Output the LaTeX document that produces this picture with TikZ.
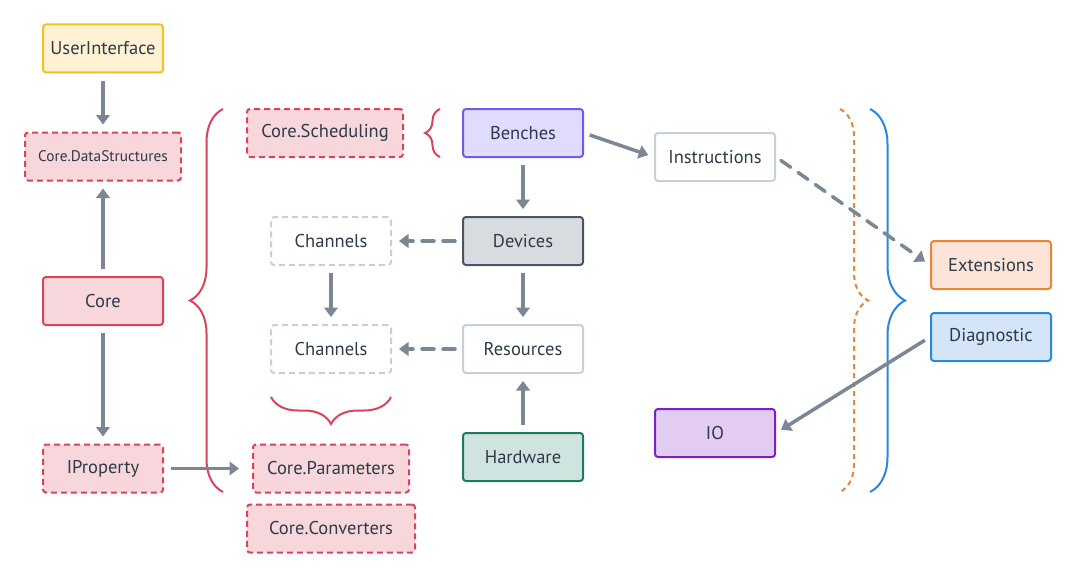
\documentclass[tikz,border=0pt]{standalone}
\usepackage{fontspec}
\setmainfont{PT Sans}
\usetikzlibrary{arrows.meta,decorations.pathreplacing}
\definecolor{txt}{HTML}{2F3A48}
\definecolor{arr}{HTML}{7B8794}
\definecolor{redb}{HTML}{D6455D}
\definecolor{redf}{HTML}{F8D7DC}
\definecolor{yelb}{HTML}{F5C024}
\definecolor{yelf}{HTML}{FFF2D4}
\definecolor{purb}{HTML}{6C5CF0}
\definecolor{purf}{HTML}{E0DCFF}
\definecolor{devb}{HTML}{4A5462}
\definecolor{devf}{HTML}{D8DCE0}
\definecolor{ltb}{HTML}{C5D0DA}
\definecolor{hwb}{HTML}{1F7A64}
\definecolor{hwf}{HTML}{D0E4DF}
\definecolor{iob}{HTML}{7B1FC9}
\definecolor{iof}{HTML}{E3CCF2}
\definecolor{extb}{HTML}{EB8537}
\definecolor{extf}{HTML}{FCE5D8}
\definecolor{diab}{HTML}{2B88D8}
\definecolor{diaf}{HTML}{D3E5F6}
\begin{document}
\begin{tikzpicture}[x=1pt,y=-1pt,
  box/.style={draw, line width=2pt, rounded corners=3pt, minimum width=120pt, minimum height=48pt,
    inner sep=0pt, text=txt, font=\fontsize{18.5}{21}\selectfont},
  dbox/.style={box, dash pattern=on 6pt off 4pt},
  redbox/.style={box, draw=redb, fill=redf},
  reddash/.style={dbox, draw=redb, fill=redf},
  conn/.style={draw=arr, line width=3.5pt, -{Triangle[length=9.5pt,width=13.5pt]}, shorten >=7pt, shorten <=7pt},
  dconn/.style={conn, dash pattern=on 12pt off 9pt, line cap=round},
  bracedeco/.style={decorate, line width=2pt}
]
\useasboundingbox (0,0) rectangle (1076,578);
\fill[white] (0,0) rectangle (1076,578);

% nodes
\node[box, draw=yelb, fill=yelf] (ui) at (103,48.5) {UserInterface};
\node[reddash, minimum width=156pt, font=\fontsize{15.3}{18}\selectfont] (ds) at (103,156.5) {Core.DataStructures};
\node[redbox] (core) at (103,301) {Core};
\node[reddash] (iprop) at (103,468.5) {IProperty};
\node[reddash, minimum width=156pt] (sched) at (325,133) {Core.Scheduling};
\node[reddash, minimum width=156pt] (param) at (331,468.5) {Core.Parameters};
\node[reddash, minimum width=168pt] (conv) at (331,528.5) {Core.Converters};
\node[dbox, draw=ltb, fill=white] (ch1) at (331,241) {Channels};
\node[dbox, draw=ltb, fill=white] (ch2) at (331,349) {Channels};
\node[box, draw=purb, fill=purf] (bench) at (523,133) {Benches};
\node[box, draw=devb, fill=devf] (dev) at (523,241) {Devices};
\node[box, draw=ltb, fill=white] (res) at (523,349) {Resources};
\node[box, draw=hwb, fill=hwf] (hw) at (523,457) {Hardware};
\node[box, draw=ltb, fill=white] (instr) at (715,157) {Instructions};
\node[box, draw=iob, fill=iof] (io) at (715,433) {IO};
\node[box, draw=extb, fill=extf] (ext) at (991,265) {Extensions};
\node[box, draw=diab, fill=diaf] (diag) at (991,337) {Diagnostic};

% braces
\draw[bracedeco, draw=redb, decoration={brace, amplitude=33pt}] (223,492) -- (223,109);
\draw[bracedeco, draw=redb, decoration={brace, amplitude=15pt}] (440,157) -- (440,109);
\draw[bracedeco, draw=redb, decoration={brace, amplitude=27pt}] (391,397) -- (271,397);
\draw[bracedeco, draw=extb, dash pattern=on 5pt off 4pt, decoration={brace, amplitude=28pt}] (840,109) -- (840,492);
\draw[bracedeco, draw=diab, decoration={brace, amplitude=35pt}] (870,109) -- (870,492);

% connectors
\draw[conn] (ui) -- (ds);
\draw[conn] (core) -- (ds);
\draw[conn] (core) -- (iprop);
\draw[conn, shorten >=13pt] (iprop) -- (param);
\draw[conn] (bench) -- (dev);
\draw[conn] (dev) -- (res);
\draw[conn] (hw) -- (res);
\draw[conn] (ch1) -- (ch2);
\draw[dconn] (dev) -- (ch1);
\draw[dconn] (res) -- (ch2);
\draw[conn, shorten <=6pt, shorten >=6pt] (bench.east) -- (instr.west);
\draw[dconn, shorten <=6pt, shorten >=6pt] (instr.east) -- (ext.west);
\draw[conn, shorten <=6pt, shorten >=6pt] (diag.west) -- (io.east);
\end{tikzpicture}
\end{document}
